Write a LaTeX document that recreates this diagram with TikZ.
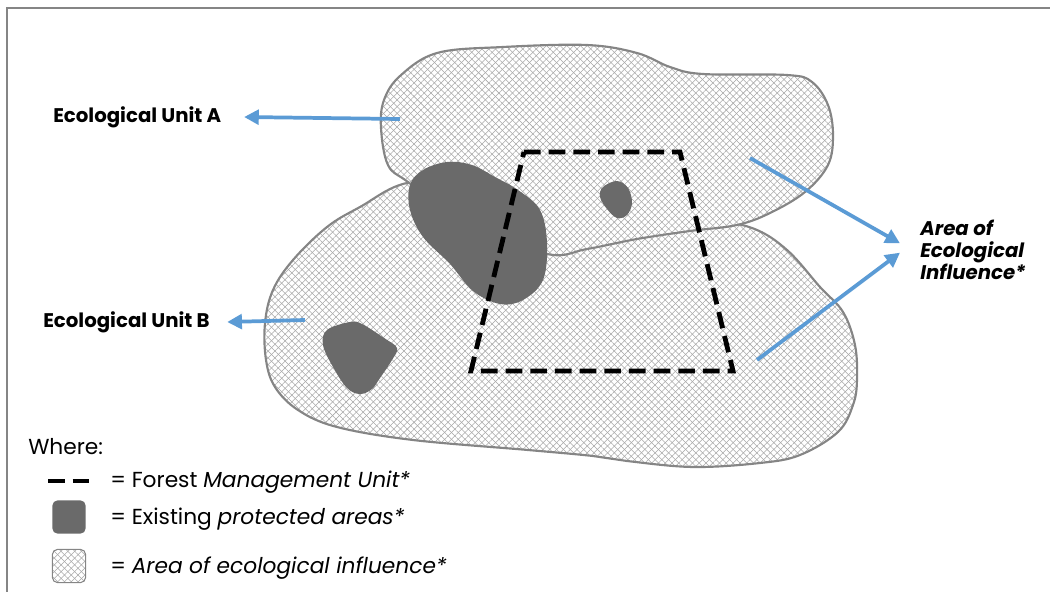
\documentclass[tikz,border=0pt]{standalone}
\usepackage{fontspec}
\setmainfont{Poppins}
\usetikzlibrary{positioning,arrows.meta,patterns.meta}

\definecolor{edge}{HTML}{858585}
\definecolor{hatch}{HTML}{A8A8A8}
\definecolor{reserve}{HTML}{6A6A6A}
\definecolor{pointer}{HTML}{5B9BD5}

\begin{document}
\begin{tikzpicture}[x=0.75pt,y=-0.75pt,
    hatched/.style={draw=edge, line width=1.6pt,
        preaction={fill=white},
        preaction={pattern={Lines[angle=45,distance=3.6pt,line width=.4pt]}, pattern color=hatch},
        pattern={Lines[angle=-45,distance=3.6pt,line width=.4pt]}, pattern color=hatch},
    reserve/.style={fill=reserve},
    fmu/.style={line width=3.6pt, dash pattern=on 12.5pt off 6pt},
    arrow/.style={draw=pointer, line width=2.8pt, -{Triangle[length=11pt,width=11pt]}},
    lbl/.style={inner sep=0pt, font=\bfseries\fontsize{14.8}{17}\selectfont},
    key/.style={inner sep=0pt, anchor=west, font=\fontsize{16.3}{19}\selectfont}]
    \useasboundingbox (0,0) rectangle (1050,592);
    \draw[edge, line width=1.5pt] (7,592) -- (7,8) -- (1050,8);

    % ecological units
    \path[hatched] plot[smooth cycle, tension=0.6] coordinates {
        (266,360) (265,323) (273,290) (293,260) (327,227) (360,207) (407,183)
        (470,185) (560,212) (650,214) (700,218) (752,228) (787,250) (820,287)
        (843,312) (855,345) (857,380) (853,405) (838,432) (800,455) (760,463)
        (693,467) (627,461) (593,456) (528,450) (413,440) (337,427) (298,410) (275,387)};
    \path[hatched] plot[smooth cycle, tension=0.6] coordinates {
        (381,128) (384,100) (400,76) (437,53) (503,47) (587,45) (637,53) (670,67)
        (703,74) (787,75) (812,82) (828,105) (833,135) (828,165) (805,192) (770,213)
        (737,225) (690,231) (637,239) (587,249) (547,254) (470,225) (408,182)
        (388,165)};

    % protected areas
    \fill[reserve] plot[smooth cycle, tension=0.6] coordinates {
        (410,185) (423,170) (447,162) (472,165) (495,177) (518,190) (540,210)
        (547,243) (543,280) (523,300) (500,304) (473,291) (450,264) (423,237) (410,210)};
    \fill[reserve] plot[smooth cycle, tension=0.6] coordinates {
        (327,330) (350,322) (362,324) (384,338) (397,348) (392,360) (380,378)
        (372,389) (360,394) (347,388) (333,367) (323,345)};
    \fill[reserve] plot[smooth cycle, tension=0.6] coordinates {
        (603,187) (617,181) (628,188) (632,203) (627,215) (617,218) (607,209) (600,197)};

    % forest management unit
    \draw[fmu] (524,152) -- (680,152) -- (733,371) -- (471,371) -- cycle;

    % labels and arrows
    \coordinate (srcA) at (400,119);
    \coordinate (srcB) at (305,320);
    \coordinate (srcU) at (750,158);
    \coordinate (srcL) at (757,360);
    \node[lbl, anchor=west] (unitA) at (53,117) {Ecological Unit A};
    \node[lbl, anchor=west] (unitB) at (43,322) {Ecological Unit B};
    \node[lbl, anchor=west, align=left, font=\bfseries\itshape\fontsize{14.8}{16.5}\selectfont]
        (aoei) at (920,250) {Area of\\Ecological\\Influence*};
    \draw[arrow] (srcA) -- ([xshift=17pt]unitA.east);
    \draw[arrow] (srcB) -- ([xshift=13pt]unitB.east);
    \draw[arrow] (srcU) -- ([xshift=-15pt,yshift=5pt]aoei.west);
    \draw[arrow] (srcL) -- ([xshift=-15pt,yshift=-2pt]aoei.west);

    % legend
    \node[key] (where) at (28,447) {Where:};
    \draw[fmu] (48,481) -- (90,481);
    \node[key] (keyFMU) at (110,482) {= Forest \textit{Management Unit*}};
    \node[reserve, rounded corners=4pt, minimum size=25pt] (boxPA) at (69,517) {};
    \node[key] (keyPA) at (110,519) {= Existing \textit{protected areas*}};
    \node[hatched, line width=.8pt, rounded corners=4pt, minimum size=25pt] (boxAE) at (69,566) {};
    \node[key] (keyAE) at (110,568) {= \textit{Area of ecological influence*}};
\end{tikzpicture}
\end{document}
